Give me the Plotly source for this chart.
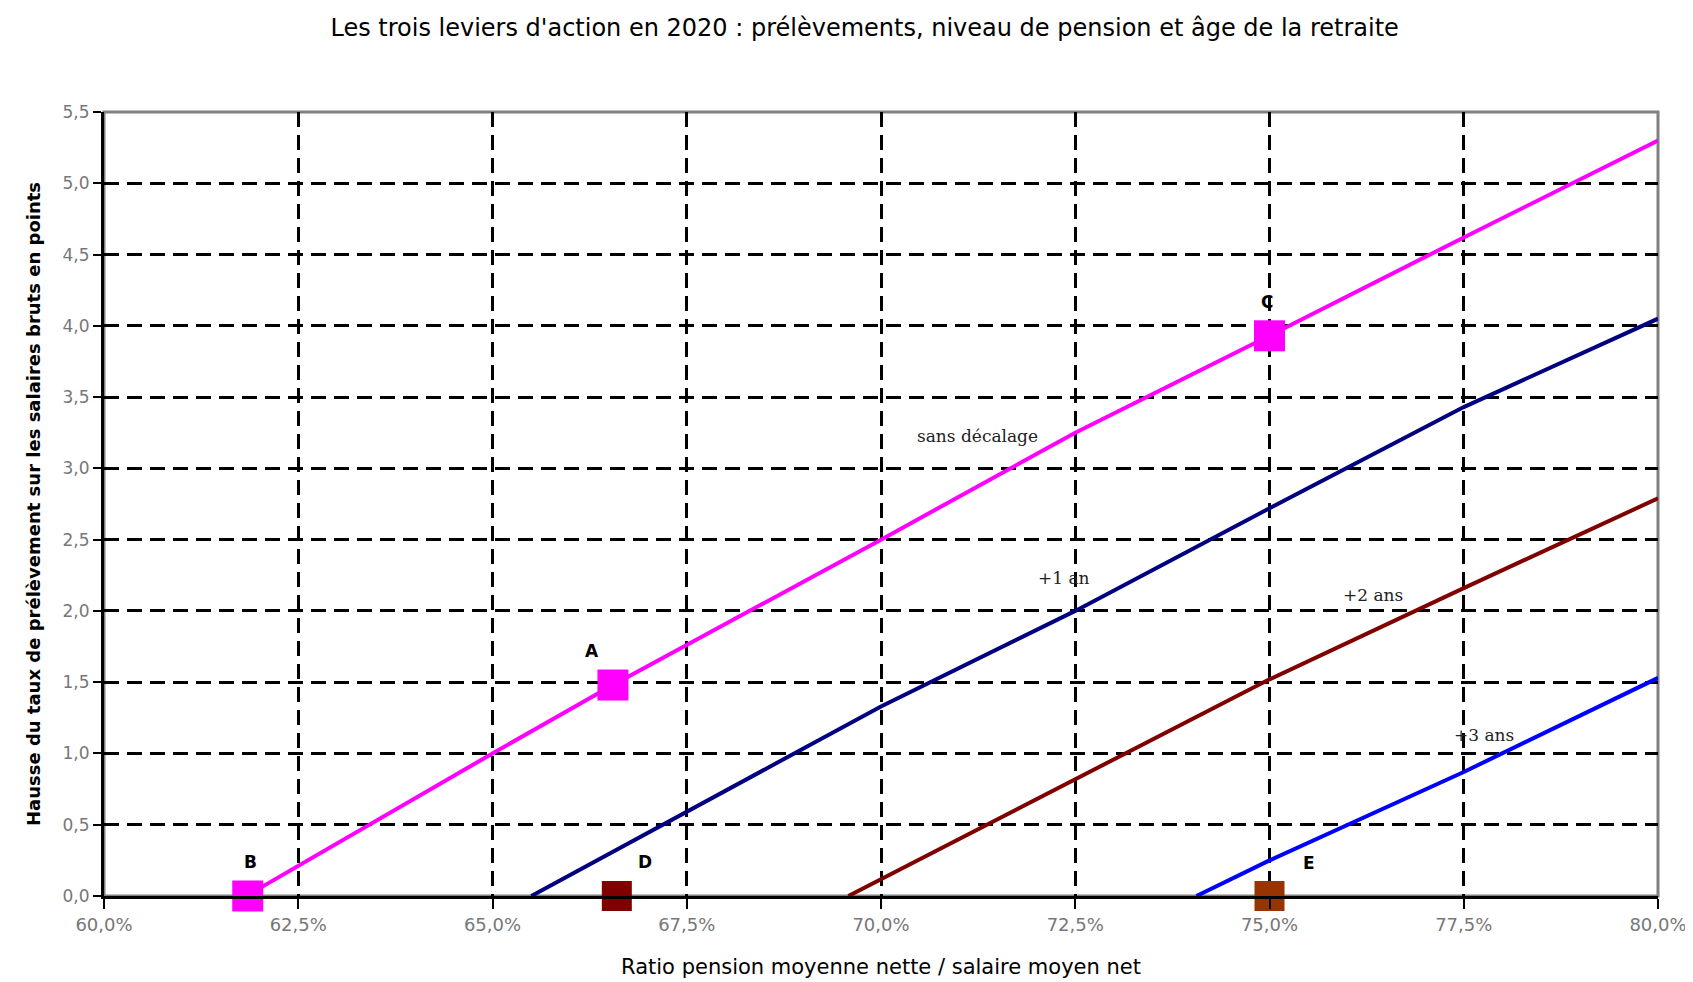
import plotly.graph_objects as go

# Data
x_sans = [61.83, 65.0, 66.55, 70.0, 72.5, 75.0, 77.5, 80.0]
y_sans = [0.0, 1.0, 1.48, 2.5, 3.25, 3.93, 4.62, 5.30]
x_1an = [65.5, 70.0, 72.5, 75.0, 77.5, 80.0]
y_1an = [0.0, 1.33, 2.0, 2.72, 3.43, 4.05]
x_2ans = [69.58, 72.5, 75.0, 77.5, 80.0]
y_2ans = [0.0, 0.82, 1.52, 2.16, 2.79]
x_3ans = [74.06, 75.0, 77.5, 80.0]
y_3ans = [0.0, 0.25, 0.87, 1.53]

pts_magenta_x = [61.85, 66.55, 75.0]
pts_magenta_y = [0.0, 1.48, 3.93]
pt_D = (66.6, 0.0)
pt_E = (75.0, 0.0)

point_labels = ["A", "B", "C", "D", "E"]
point_label_x = [66.28, 61.89, 74.97, 66.96, 75.51]
point_label_y = [1.72, 0.24, 4.17, 0.24, 0.23]

curve_labels = ["sans décalage", "+1 an", "+2 ans", "+3 ans"]
curve_label_x = [71.24, 72.35, 76.33, 77.76]
curve_label_y = [3.23, 2.23, 2.11, 1.13]

x_tickvals = [60, 62.5, 65, 67.5, 70, 72.5, 75, 77.5, 80]
x_ticktext = ["60,0%", "62,5%", "65,0%", "67,5%", "70,0%", "72,5%", "75,0%", "77,5%", "80,0%"]
y_tickvals = [0, 0.5, 1, 1.5, 2, 2.5, 3, 3.5, 4, 4.5, 5, 5.5]
y_ticktext = ["0,0", "0,5", "1,0", "1,5", "2,0", "2,5", "3,0", "3,5", "4,0", "4,5", "5,0", "5,5"]

SANS = "DejaVu Sans, Liberation Sans, Arial"
SERIF = "DejaVu Serif, Liberation Serif, Times New Roman"

fig = go.Figure()
line_specs = [
    (x_sans, y_sans, "#FF00FF"),
    (x_1an, y_1an, "#000080"),
    (x_2ans, y_2ans, "#800000"),
    (x_3ans, y_3ans, "#0000FF"),
]
for xs, ys, c in line_specs:
    fig.add_trace(go.Scatter(x=xs, y=ys, mode="lines", line=dict(color=c, width=4),
                             showlegend=False, cliponaxis=True))

fig.add_trace(go.Scatter(x=pts_magenta_x, y=pts_magenta_y, mode="markers",
                         marker=dict(symbol="square", size=31, color="#FF00FF"),
                         showlegend=False, cliponaxis=False))
fig.add_trace(go.Scatter(x=[pt_D[0]], y=[pt_D[1]], mode="markers",
                         marker=dict(symbol="square", size=30, color="#800000"),
                         showlegend=False, cliponaxis=False))
fig.add_trace(go.Scatter(x=[pt_E[0]], y=[pt_E[1]], mode="markers",
                         marker=dict(symbol="square", size=30, color="#993300"),
                         showlegend=False, cliponaxis=False))

for t, x, y in zip(point_labels, point_label_x, point_label_y):
    fig.add_annotation(x=x, y=y, text="<b>" + t + "</b>", showarrow=False,
                       font=dict(family=SANS, size=17, color="black"))
for t, x, y in zip(curve_labels, curve_label_x, curve_label_y):
    fig.add_annotation(x=x, y=y, text=t, showarrow=False,
                       font=dict(family=SERIF, size=17, color="#222"))

# grey plot-area border
fig.add_shape(type="rect", xref="x domain", yref="y domain", x0=0, x1=1, y0=0, y1=1,
              line=dict(color="#808080", width=3), layer="below")

fig.update_layout(
    width=1693, height=982,
    paper_bgcolor="white", plot_bgcolor="white",
    margin=dict(l=96, r=43, t=104, b=94),
    title=dict(text="Les trois leviers d'action en 2020 : prélèvements, niveau de pension et âge de la retraite",
               x=0.506, xanchor="center", y=0.98, yanchor="middle",
               font=dict(family=SANS, size=24, color="black")),
    xaxis=dict(range=[60, 80], tickvals=x_tickvals, ticktext=x_ticktext,
               showgrid=True, gridcolor="black", gridwidth=2.5, griddash="15px,8px",
               showline=True, linecolor="black", linewidth=3,
               ticks="outside", ticklen=10, tickwidth=2, tickcolor="black",
               tickfont=dict(family=SANS, size=18, color="#777"),
               zeroline=False,
               title=dict(text="Ratio pension moyenne nette / salaire moyen net", standoff=26,
                          font=dict(family=SANS, size=21, color="black"))),
    yaxis=dict(range=[0, 5.5], tickvals=y_tickvals, ticktext=y_ticktext,
               showgrid=True, gridcolor="black", gridwidth=2.5, griddash="15px,8px",
               showline=True, linecolor="black", linewidth=3,
               ticks="outside", ticklen=8, tickwidth=2, tickcolor="black",
               tickfont=dict(family=SANS, size=17, color="#777"),
               zeroline=False,
               title=dict(text="<b>Hausse du taux de prélèvement sur les salaires bruts en points</b>", standoff=18,
                          font=dict(family=SANS, size=18, color="black"))),
)

fig.write_html("out.html")
